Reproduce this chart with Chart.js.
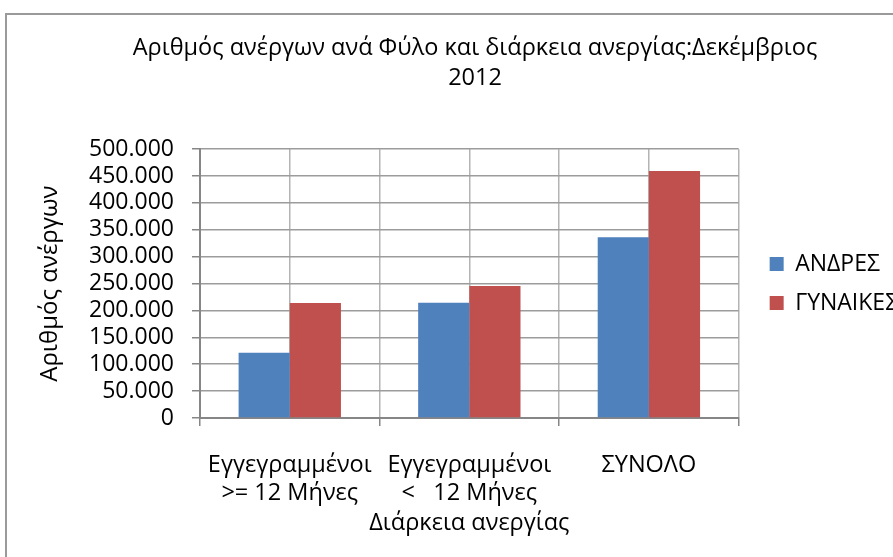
<!DOCTYPE html>
<html>
<head>
<meta charset="utf-8">
<script src="https://cdn.jsdelivr.net/npm/chart.js@4/dist/chart.umd.min.js"></script>
<style>
  html, body { margin: 0; padding: 0; background: #fff; overflow: hidden; width: 893px; height: 557px; }
  #frame { position: absolute; left: 5px; top: 13px; width: 1000px; height: 700px; border: 2px solid #9a9a9a; box-sizing: border-box; }
  #wrap { position: absolute; left: 0; top: 0; width: 893px; height: 557px; }
</style>
</head>
<body>
<div id="frame"></div>
<div id="wrap"><canvas id="c" width="893" height="557"></canvas></div>
<script>
const categories = [
  ["Εγγεγραμμένοι", ">= 12 Μήνες"],
  ["Εγγεγραμμένοι", "<   12 Μήνες"],
  "ΣΥΝΟΛΟ"
];
const seriesNames = ["ΑΝΔΡΕΣ", "ΓΥΝΑΙΚΕΣ"];
const men = [121500, 214500, 336000];
const women = [214000, 245500, 459500];
const yTicks = [0, 50000, 100000, 150000, 200000, 250000, 300000, 350000, 400000, 450000, 500000];
const titleLines = ["Αριθμός ανέργων ανά Φύλο και διάρκεια ανεργίας:Δεκέμβριος", "2012"];
const yTitle = "Αριθμός ανέργων";
const xTitle = "Διάρκεια ανεργίας";

const FONT = "'Open Sans', 'Noto Sans', sans-serif";
const fmt = v => String(v).replace(/\B(?=(\d{3})+(?!\d))/g, '.');

new Chart(document.getElementById('c'), {
  type: 'bar',
  data: {
    labels: categories,
    datasets: [
      { label: seriesNames[0], data: men, backgroundColor: '#4F81BD', borderWidth: 0 },
      { label: seriesNames[1], data: women, backgroundColor: '#C0504D', borderWidth: 0 }
    ]
  },
  options: {
    responsive: false,
    devicePixelRatio: 1,
    animation: false,
    layout: { padding: { left: 57, right: 0, top: 0, bottom: 0 } },
    datasets: { bar: { categoryPercentage: 0.57, barPercentage: 1.0 } },
    plugins: {
      title: {
        display: true,
        text: titleLines,
        color: '#000',
        font: { family: FONT, size: 23.5, weight: 'normal', lineHeight: 1.28 },
        padding: { top: 33, bottom: 56 }
      },
      legend: {
        position: 'right',
        fullSize: false,
        align: 'center',
        labels: {
          color: '#000',
          font: { family: FONT, size: 23 },
          boxWidth: 14, boxHeight: 14,
          padding: 16
        }
      },
      tooltip: { enabled: false }
    },
    scales: {
      x: {
        offset: true,
        grid: { offset: true, color: '#b4b4b4', lineWidth: 1.5, tickColor: '#868686', tickLength: 8 },
        border: { color: '#868686', width: 2 },
        ticks: { color: '#000', font: { family: FONT, size: 23.5, lineHeight: 1.19 }, padding: 25, maxRotation: 0, autoSkip: false },
        title: { display: true, text: xTitle, color: '#000', font: { family: FONT, size: 23.5, lineHeight: 1.19 }, padding: { top: 0, bottom: 20 } },
        afterFit: s => { s.height = 139; }
      },
      x2: {
        type: 'category',
        position: 'top',
        offset: true,
        grid: { offset: false, color: '#b4b4b4', lineWidth: 1.5, drawTicks: false },
        border: { display: false },
        ticks: { display: false },
        afterFit: s => { s.height = 0; }
      },
      y: {
        min: 0, max: 500000,
        afterBuildTicks: s => { s.ticks = yTicks.map(v => ({ value: v })); },
        grid: { color: '#9c9c9c', lineWidth: 1.5, tickColor: '#868686', tickLength: 8 },
        border: { color: '#868686', width: 2 },
        ticks: { color: '#000', font: { family: FONT, size: 23 }, padding: 18, autoSkip: false, callback: v => fmt(v) },
        title: { display: true, text: yTitle, color: '#000', font: { family: FONT, size: 24, lineHeight: 1.0 }, padding: { top: -19, bottom: 0 } },
        afterFit: s => { s.width = 143; }
      },
      y2: {
        type: 'linear',
        position: 'right',
        display: true,
        grid: { display: false },
        border: { display: false },
        ticks: { display: false },
        afterFit: s => { s.width = 15; }
      }
    }
  }
});
</script>
</body>
</html>
